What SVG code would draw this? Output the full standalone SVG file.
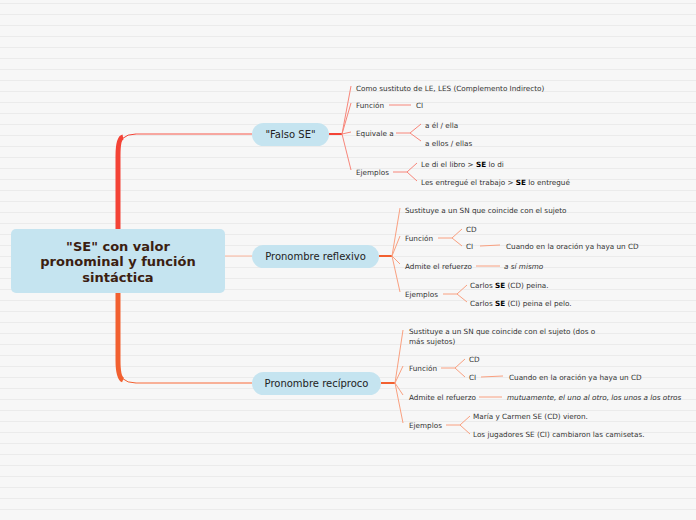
<svg xmlns="http://www.w3.org/2000/svg" width="696" height="520" viewBox="0 0 696 520">
<defs>
<pattern id="bg" x="0" y="3" width="696" height="11" patternUnits="userSpaceOnUse">
<rect x="0" y="0" width="696" height="1" fill="#ebebeb"/>
</pattern>
<style>
text{font-family:"DejaVu Sans",Verdana,sans-serif;fill:#333}
.t{font-size:7.25px}
.n{font-size:10px;fill:#222;text-anchor:middle}
.c{font-size:13px;font-weight:bold;fill:#3b2010;text-anchor:middle}
.box{fill:#c5e4f0}
.r{stroke:#f7867a;stroke-width:1;fill:none}
.o{stroke:#f9a080;stroke-width:1;fill:none}
.o2{stroke:#fbb59c;stroke-width:1;fill:none}
.r2{stroke:#f9b0a8;stroke-width:1;fill:none}
</style>
</defs>
<rect width="696" height="520" fill="#f7f7f7"/>
<rect width="696" height="520" fill="url(#bg)"/>
<g id="connectors">
<path d="M118,229 V152 Q118,134 136,134 H252" fill="none" stroke="#f44336" stroke-width="1" />
<path d="M118,229 V156 Q118,138 123,137" fill="none" stroke="#f44336" stroke-width="5"/>
<path d="M136,134 H252" class="r2"/>
<path d="M118,293 V365 Q118,383 136,383 H252" fill="none" stroke="#f26030" stroke-width="1"/>
<path d="M118,293 V360 Q118,378 123,380" fill="none" stroke="#f26030" stroke-width="5"/>
<path d="M136,383 H252" class="o2"/>
<path d="M225,256 H252" class="o2"/>
<!-- Falso SE -->
<path d="M329,134 H342" stroke="#f44336" stroke-width="2" fill="none"/>
<path d="M342,134 L351,86 M342,134 L351,103 M342,134 L351,132 M342,134 L351,170" class="r"/>
<path d="M389,105 H411" class="r"/>
<path d="M396,133 H410 L421,124 M410,133 L421,141" class="r"/>
<path d="M393,172 H407 L417,163 M407,172 L417,181" class="r"/>
<!-- Reflexivo -->
<path d="M379,256 H392" stroke="#f26030" stroke-width="2" fill="none"/>
<path d="M392,256 L400,208 M392,256 L400,236 M392,256 L400,264 M392,256 L400,292" class="o"/>
<path d="M438,238 H452 L462,229 M452,238 L462,246" class="o"/>
<path d="M480,246 L500,245" class="o"/>
<path d="M476,266 H500" class="o"/>
<path d="M443,294 H457 L467,285 M457,294 L467,302" class="o"/>
<!-- Reciproco -->
<path d="M381,383 H395" stroke="#f26030" stroke-width="2" fill="none"/>
<path d="M395,383 L403,330 M395,383 L403,366 M395,383 L403,395 M395,383 L403,423" class="o"/>
<path d="M441,368 H455 L465,359 M455,368 L465,377" class="o"/>
<path d="M481,377 L503,376" class="o"/>
<path d="M479,397 H502" class="o"/>
<path d="M446,425 H460 L470,416 M460,425 L470,434" class="o"/>
</g>
<g id="central">
<rect x="11" y="229" width="214" height="64" rx="5" class="box"/>
<text class="c" x="118" y="251">"SE" con valor</text>
<text class="c" x="118" y="266">pronominal y función</text>
<text class="c" x="118" y="282">sintáctica</text>
</g>
<g id="falso">
<rect x="252" y="123" width="77" height="23" rx="11.5" class="box"/>
<text class="n" x="290.5" y="138">"Falso SE"</text>
</g>
<g id="reflexivo">
<rect x="252" y="245" width="127" height="23" rx="11.5" class="box"/>
<text class="n" x="315.5" y="260">Pronombre reflexivo</text>
</g>
<g id="reciproco">
<rect x="252" y="372" width="129" height="23" rx="11.5" class="box"/>
<text class="n" x="316.5" y="387">Pronombre recíproco</text>
</g>
<g id="falso-children">
<text class="t" x="356" y="90.5">Como sustituto de LE, LES (Complemento Indirecto)</text>
<text class="t" x="356" y="107.5">Función</text>
<text class="t" x="416" y="107.5">CI</text>
<text class="t" x="356" y="135.5">Equivale a</text>
<text class="t" x="425" y="127.5">a él / ella</text>
<text class="t" x="425" y="145.5">a ellos / ellas</text>
<text class="t" x="356" y="174.5">Ejemplos</text>
<text class="t" x="421" y="166.5">Le di el libro &gt; <tspan font-weight="bold" fill="#000">SE</tspan> lo di</text>
<text class="t" x="421" y="184.5">Les entregué el trabajo &gt; <tspan font-weight="bold" fill="#000">SE</tspan> lo entregué</text>
</g>
<g id="reflexivo-children">
<text class="t" x="405" y="212.5">Sustituye a un SN que coincide con el sujeto</text>
<text class="t" x="405" y="240.5">Función</text>
<text class="t" x="466" y="231.5">CD</text>
<text class="t" x="466" y="248.5">CI</text>
<text class="t" x="506" y="248.5">Cuando en la oración ya haya un CD</text>
<text class="t" x="405" y="268.5">Admite el refuerzo</text>
<text class="t" x="504" y="268.5" font-style="italic">a sí mismo</text>
<text class="t" x="405" y="296.5">Ejemplos</text>
<text class="t" x="470" y="287.5">Carlos <tspan font-weight="bold" fill="#000">SE</tspan> (CD) peina.</text>
<text class="t" x="470" y="305.5">Carlos <tspan font-weight="bold" fill="#000">SE</tspan> (CI) peina el pelo.</text>
</g>
<g id="reciproco-children">
<text class="t" x="409" y="333.5">Sustituye a un SN que coincide con el sujeto (dos o</text>
<text class="t" x="409" y="343.5">más sujetos)</text>
<text class="t" x="409" y="370.5">Función</text>
<text class="t" x="469" y="361.5">CD</text>
<text class="t" x="469" y="379.5">CI</text>
<text class="t" x="509" y="379.5">Cuando en la oración ya haya un CD</text>
<text class="t" x="409" y="399.5">Admite el refuerzo</text>
<text class="t" x="507" y="399.5" font-style="italic">mutuamente, el uno al otro, los unos a los otros</text>
<text class="t" x="409" y="427.5">Ejemplos</text>
<text class="t" x="473" y="418.5">María y Carmen SE (CD) vieron.</text>
<text class="t" x="473" y="436.5">Los jugadores SE (CI) cambiaron las camisetas.</text>
</g>
</svg>
